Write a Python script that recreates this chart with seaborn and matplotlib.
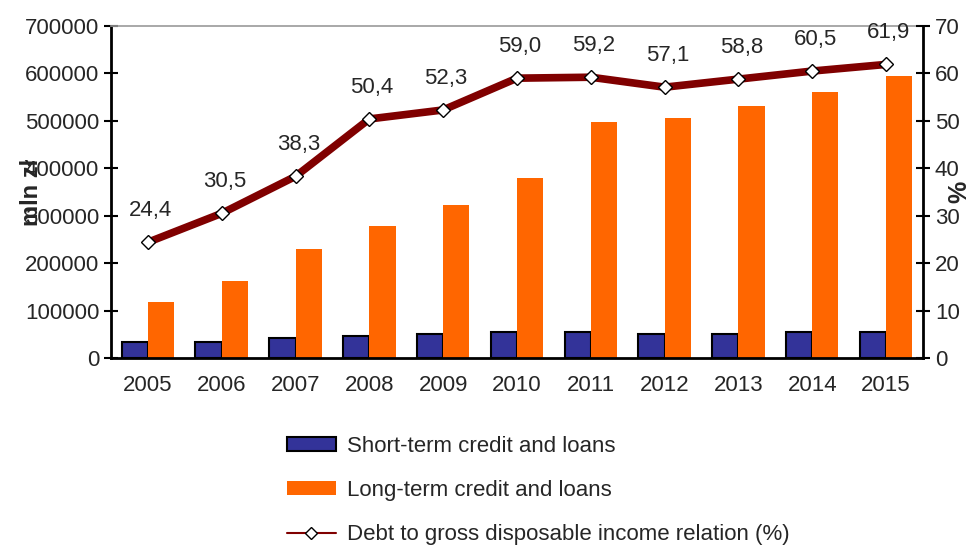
import numpy as np
import pandas as pd
import seaborn as sns
import matplotlib.pyplot as plt
from matplotlib.patches import Patch
from matplotlib.lines import Line2D

years = ['2005', '2006', '2007', '2008', '2009', '2010', '2011', '2012', '2013', '2014', '2015']
short_term = [34000, 34000, 43000, 47000, 51000, 55500, 55500, 51000, 51000, 55500, 55500]
long_term = [119000, 162000, 229000, 278000, 322000, 380000, 498000, 506000, 532000, 561000, 595000]
debt_ratio = [24.4, 30.5, 38.3, 50.4, 52.3, 59.0, 59.2, 57.1, 58.8, 60.5, 61.9]

short_name = 'Short-term credit and loans'
long_name = 'Long-term credit and loans'
line_name = 'Debt to gross disposable income relation (%)'

sns.set_style('white')
plt.rcParams['font.family'] = ['Liberation Sans', 'DejaVu Sans']
fs = 16

df = pd.DataFrame({
    'year': years * 2,
    'value': short_term + long_term,
    'series': [short_name] * len(years) + [long_name] * len(years),
})

fig = plt.figure(figsize=(9.76, 5.45), dpi=100)
ax = fig.add_axes([0.1137, 0.3431, 0.832, 0.6092])

sns.barplot(data=df, x='year', y='value', hue='series',
            palette={short_name: '#333399', long_name: '#FF6600'},
            width=0.71, saturation=1, legend=False, ax=ax)
n = len(years)
for i, p in enumerate(ax.patches[:2 * n]):
    if i < n:
        p.set_edgecolor('black')
        p.set_linewidth(1.5)
    else:
        p.set_edgecolor('none')

ax.set_ylim(0, 700000)
ax.set_xlim(-0.5, n - 0.5)
ax.set_yticks(np.arange(0, 700001, 100000))
ax.set_yticklabels([str(v) for v in range(0, 700001, 100000)], fontsize=fs)
ax.set_xticks(range(n))
ax.set_xticklabels(years, fontsize=fs)
ax.tick_params(axis='x', which='major', length=0, pad=12)
ax.set_xticks(np.arange(-0.5, n, 1), minor=True)
ax.tick_params(axis='x', which='minor', direction='inout', length=10, width=1.5, color='black')
ax.tick_params(axis='y', direction='inout', length=10, width=1.5, color='black', left=True)
ax.set_xlabel('')
ax.set_ylabel('mln zł', fontsize=fs + 1, fontweight='bold', labelpad=-13)
for s in ['left', 'bottom']:
    ax.spines[s].set_color('black')
    ax.spines[s].set_linewidth(2)
ax.spines['top'].set_color('#999999')
ax.spines['top'].set_linewidth(1.2)
ax.spines['right'].set_visible(False)

ax2 = ax.twinx()
sns.pointplot(x=years, y=debt_ratio, color='#800000', markers='D',
              linewidth=5.5, markersize=7, markerfacecolor='white',
              markeredgecolor='black', markeredgewidth=1, ax=ax2)
ax2.set_xlim(-0.5, n - 0.5)
ax2.set_ylim(0, 70)
ax2.set_yticks(range(0, 71, 10))
ax2.set_yticklabels([str(v) for v in range(0, 71, 10)], fontsize=fs)
ax2.tick_params(axis='y', direction='inout', length=10, width=1.5, color='black', right=True)
ax2.set_ylabel('%', fontsize=fs + 2, fontweight='bold', labelpad=-9)
for s in ['left', 'bottom', 'top']:
    ax2.spines[s].set_visible(False)
ax2.spines['right'].set_color('black')
ax2.spines['right'].set_linewidth(2)

for i, v in enumerate(debt_ratio):
    ax2.annotate(f'{v:.1f}'.replace('.', ','), (i, v), xytext=(2, 23),
                 textcoords='offset points', ha='center', va='center', fontsize=fs)

handles = [
    Patch(facecolor='#333399', edgecolor='black', linewidth=1.5, label=short_name),
    Patch(facecolor='#FF6600', edgecolor='none', label=long_name),
    Line2D([0], [0], color='#800000', linewidth=1.5, marker='D', markersize=6,
           markerfacecolor='white', markeredgecolor='black', label=line_name),
]
fig.legend(handles=handles, loc='upper left', bbox_to_anchor=(0.285, 0.217),
           frameon=False, fontsize=fs, handlelength=2.2, handleheight=0.6,
           handletextpad=0.5, labelspacing=1.05, borderaxespad=0)

fig.savefig('out.png', dpi=100)
